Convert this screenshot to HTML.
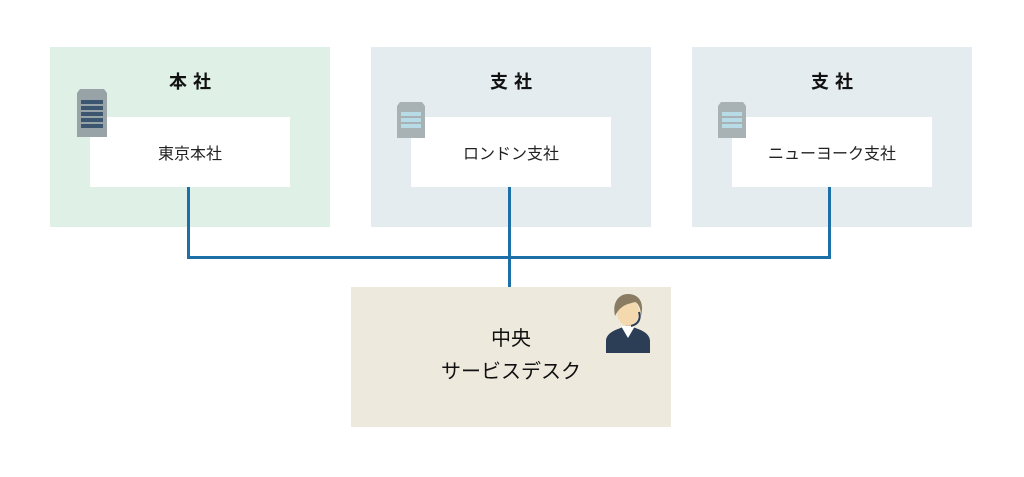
<!DOCTYPE html><html><head><style>
body{margin:0;width:1024px;height:477px;background:#fff;position:relative;font-family:"Liberation Sans","Noto Sans CJK JP",sans-serif;overflow:hidden}
.a{position:absolute}
.g{background:#dff1e6}.b{background:#e5ecef}
.w{background:#fff;width:200px;height:70px;top:117px;font-size:16px;color:#222;display:flex;align-items:center;justify-content:center}
.t{top:68px;width:280px;text-align:center;font-size:18px;font-weight:bold;letter-spacing:6px;color:#111}
.ln{background:#1d6fa7}
</style></head><body>
<div class="a g" style="left:50px;top:47px;width:280px;height:180px"></div>
<div class="a b" style="left:371px;top:47px;width:280px;height:180px"></div>
<div class="a b" style="left:692px;top:47px;width:280px;height:180px"></div>
<div class="a t" style="left:53px">本社</div>
<div class="a t" style="left:374px">支社</div>
<div class="a t" style="left:695px">支社</div>
<div class="a w" style="left:90px">東京本社</div>
<div class="a w" style="left:411px">ロンドン支社</div>
<div class="a w" style="left:732px">ニューヨーク支社</div>
<svg class="a" style="left:76px;top:89px" width="32" height="50"><path d="M4 0h24l3 4v44H1V4z" fill="#97a3a6"/><g fill="#3d5670"><rect x="5" y="11" width="22" height="4"/><rect x="5" y="17" width="22" height="4"/><rect x="5" y="23" width="22" height="4"/><rect x="5" y="29" width="22" height="4"/><rect x="5" y="35" width="22" height="4"/></g></svg>
<svg class="a" style="left:396px;top:102px" width="30" height="36"><path d="M4 0h22l3 4v32H1V4z" fill="#a8b2b5"/><g fill="#b8dbe8"><rect x="5" y="10" width="20" height="4"/><rect x="5" y="16" width="20" height="4"/><rect x="5" y="22" width="20" height="4"/></g></svg>
<svg class="a" style="left:717px;top:102px" width="30" height="36"><path d="M4 0h22l3 4v32H1V4z" fill="#a8b2b5"/><g fill="#b8dbe8"><rect x="5" y="10" width="20" height="4"/><rect x="5" y="16" width="20" height="4"/><rect x="5" y="22" width="20" height="4"/></g></svg>
<div class="a ln" style="left:187px;top:187px;width:3px;height:72px"></div>
<div class="a ln" style="left:508px;top:187px;width:3px;height:101px"></div>
<div class="a ln" style="left:828px;top:187px;width:3px;height:72px"></div>
<div class="a ln" style="left:187px;top:256px;width:644px;height:3px"></div>
<div class="a" style="left:351px;top:287px;width:320px;height:140px;background:#edeadd"></div>
<div class="a" style="left:351px;top:323px;width:320px;text-align:center;font-size:20px;line-height:33px;color:#111">中央<br>サービスデスク</div>
<svg class="a" style="left:604px;top:290px" width="48" height="66">
<path d="M2 63v-12c0-6 6-10 12-12l10-4 10 4c6 2 12 6 12 12v12z" fill="#2c3e55"/>
<path d="M17 36l7 12 7-12z" fill="#fff"/>
<ellipse cx="24" cy="22" rx="11" ry="14" fill="#f3d9ad"/>
<path d="M11 26c-3-14 4-22 13-22s17 6 13 22c0-8-3-13-6-14-6 2-14 2-20 14z" fill="#8a7c63"/>
<path d="M35 22c2 6 0 12-8 14" stroke="#2c3e55" stroke-width="2" fill="none"/>
</svg>
</body></html>
